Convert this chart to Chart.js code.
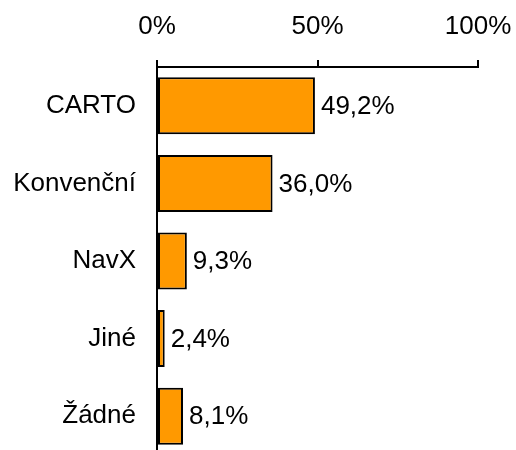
<!DOCTYPE html>
<html>
<head>
<meta charset="utf-8">
<script src="https://cdn.jsdelivr.net/npm/chart.js@4"></script>
<style>
  html, body { margin: 0; padding: 0; background: #fff; overflow: hidden; }
  canvas { display: block; }
</style>
</head>
<body>
<canvas id="barChart" width="516" height="456"></canvas>
<script>
// -------------------- DATA --------------------
const categories = ["CARTO", "Konvenční", "NavX", "Jiné", "Žádné"];
const shares = [49.2, 36.0, 9.3, 2.4, 8.1];
const tickValues = [0, 50, 100];

const FONT = "'Liberation Sans', Arial, sans-serif";

// value labels to the right of each bar
const valueLabels = {
  id: "valueLabels",
  afterDatasetsDraw(chart) {
    const ctx = chart.ctx;
    const meta = chart.getDatasetMeta(0);
    ctx.save();
    ctx.font = "26px " + FONT;
    ctx.fillStyle = "#000";
    ctx.textAlign = "left";
    ctx.textBaseline = "middle";
    meta.data.forEach((bar, i) => {
      const txt = shares[i].toFixed(1).replace(".", ",") + "%";
      ctx.fillText(txt, bar.x + 6, bar.y + 1);
    });
    ctx.restore();
  }
};

window.addEventListener("load", () => {
  const el = document.getElementById("barChart");

  new Chart(el, {
    type: "bar",
    data: {
      labels: categories,
      datasets: [{
        data: shares,
        backgroundColor: "#FF9900",
        borderColor: "#000",
        borderWidth: 2,
        borderSkipped: false,
        categoryPercentage: 1,
        barPercentage: 0.735
      }]
    },
    options: {
      indexAxis: "y",
      responsive: false,
      maintainAspectRatio: false,
      devicePixelRatio: 1,
      animation: false,
      layout: { padding: { left: 0, right: 38, top: 0, bottom: 1 } },
      plugins: {
        legend: { display: false },
        tooltip: { enabled: false }
      },
      scales: {
        x: {
          position: "top",
          min: 0,
          max: 100,
          afterBuildTicks: (scale) => {
            scale.ticks = tickValues.map((v) => ({ value: v }));
          },
          // fixed axis size, ignore label overhang
          afterFit: (scale) => {
            scale.height = 67;
            scale.paddingLeft = 0;
            scale.paddingRight = 0;
          },
          grid: {
            drawOnChartArea: false,
            drawTicks: true,
            tickLength: 7,
            color: "#000",
            lineWidth: 2
          },
          border: { display: true, color: "#000", width: 2 },
          ticks: {
            color: "#000",
            padding: 18,
            maxRotation: 0,
            font: { family: FONT, size: 26 },
            callback: (v) => v + "%"
          }
        },
        y: {
          afterFit: (scale) => {
            scale.width = 157;
            scale.paddingTop = 0;
            scale.paddingBottom = 0;
          },
          grid: { display: false, drawTicks: false },
          border: { display: true, color: "#000", width: 2 },
          ticks: {
            color: "#000",
            padding: 21,
            font: { family: FONT, size: 26 }
          }
        }
      }
    },
    plugins: [valueLabels]
  });
});
</script>
</body>
</html>
